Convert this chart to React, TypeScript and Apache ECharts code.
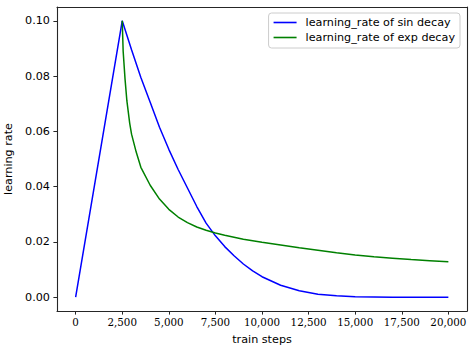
import React, { useEffect, useRef } from "react";
import * as echarts from "echarts";

const sinSteps = [0, 2500, 3000, 3500, 4000, 4500, 5000, 5500, 6000, 6500, 7000, 7500, 8000, 8500, 9000, 9500, 10000, 11000, 12000, 13000, 14000, 15000, 16000, 17000, 18000, 19000, 20000];
const sinValues = [0, 0.1, 0.0895, 0.0795, 0.0705, 0.0615, 0.0535, 0.0462, 0.0395, 0.0328, 0.0268, 0.0222, 0.0183, 0.015, 0.012, 0.0095, 0.0074, 0.0043, 0.0023, 0.0011, 0.0005, 0.0002, 0.0001, 0, 0, 0, 0];

const expSteps = [2500, 2550, 2650, 2750, 2900, 3000, 3250, 3500, 4000, 4500, 5000, 5500, 6000, 6500, 7000, 7500, 8000, 9000, 10000, 11000, 12000, 13000, 14000, 15000, 16000, 17000, 18000, 19000, 20000];
const expValues = [0.1, 0.089, 0.079, 0.071, 0.063, 0.059, 0.0525, 0.047, 0.0405, 0.0355, 0.0318, 0.029, 0.027, 0.0254, 0.0242, 0.0232, 0.0224, 0.021, 0.0199, 0.0189, 0.0179, 0.017, 0.0161, 0.0153, 0.0146, 0.0141, 0.0136, 0.0132, 0.0128];

const xTicks = [0, 2500, 5000, 7500, 10000, 12500, 15000, 17500, 20000];
const yTicks = [0, 0.02, 0.04, 0.06, 0.08, 0.1];

const seriesNames = ["learning_rate of sin decay", "learning_rate of exp decay"];

export default function App() {
  const ref = useRef<HTMLDivElement>(null);
  useEffect(() => {
    if (!ref.current) return;
    const chart = echarts.init(ref.current, null, { renderer: "svg" });
    const sans = "DejaVu Sans";
    const fs = 11.2;
    const frame = "#262626";
    const axisLine = { show: true, onZero: false, lineStyle: { color: frame, width: 1.1 } };
    const mirrorAxis = {
      axisLine: { show: true, onZero: false, lineStyle: { color: frame, width: 1.1 } },
      axisTick: { show: false },
      axisLabel: { show: false },
      splitLine: { show: false },
    };
    chart.setOption({
      animation: false,
      backgroundColor: "#fff",
      grid: {
        left: 57,
        right: 7,
        top: 7,
        bottom: 44,
        containLabel: false,
        outerBoundsMode: "none",
      },
      legend: {
        orient: "vertical",
        right: 14,
        top: 13,
        padding: [4, 5, 5, 5],
        itemGap: 4,
        itemWidth: 23,
        itemHeight: 1.6,
        icon: "rect",
        borderColor: "#cccccc",
        borderWidth: 1,
        borderRadius: 3,
        backgroundColor: "rgba(255,255,255,0.8)",
        textStyle: { fontFamily: sans, fontSize: fs, color: "#000", padding: [0, 0, 0, 4] },
        data: seriesNames,
      },
      xAxis: [
        {
          type: "value",
          position: "bottom",
          min: -1000,
          max: 21000,
          name: "train steps",
          nameLocation: "middle",
          nameGap: 23,
          nameTextStyle: { fontFamily: sans, fontSize: fs, color: "#000" },
          axisLine,
          splitLine: { show: false },
          axisTick: { show: true, inside: false, length: 3.6, customValues: xTicks, lineStyle: { color: frame, width: 1 } },
          axisLabel: {
            customValues: xTicks,
            margin: 6,
            fontFamily: "DejaVu Serif",
            fontSize: 10.3,
            color: "#000",
            formatter: (v: number) => v.toLocaleString("en-US"),
          },
        },
        { type: "value", position: "top", min: -1000, max: 21000, ...mirrorAxis },
      ],
      yAxis: [
        {
          type: "value",
          position: "left",
          min: -0.005,
          max: 0.105,
          name: "learning rate",
          nameLocation: "middle",
          nameGap: 33,
          nameTextStyle: { fontFamily: sans, fontSize: fs, color: "#000" },
          axisLine,
          splitLine: { show: false },
          axisTick: { show: true, inside: false, length: 3.6, customValues: yTicks, lineStyle: { color: frame, width: 1 } },
          axisLabel: {
            customValues: yTicks,
            margin: 7,
            fontFamily: sans,
            fontSize: fs,
            color: "#000",
            formatter: (v: number) => v.toFixed(2),
          },
        },
        { type: "value", position: "right", min: -0.005, max: 0.105, ...mirrorAxis },
      ],
      series: [
        {
          name: seriesNames[0],
          type: "line",
          data: sinSteps.map((s, i) => [s, sinValues[i]]),
          symbol: "none",
          lineStyle: { color: "#0000ff", width: 1.5 },
          itemStyle: { color: "#0000ff" },
          z: 3,
        },
        {
          name: seriesNames[1],
          type: "line",
          data: expSteps.map((s, i) => [s, expValues[i]]),
          symbol: "none",
          lineStyle: { color: "#008000", width: 1.5 },
          itemStyle: { color: "#008000" },
          z: 4,
        },
      ],
    });
    return () => chart.dispose();
  }, []);
  return (
    <div
      ref={ref}
      style={{ position: "fixed", left: 0, top: 0, width: 474, height: 355, background: "#fff" }}
    />
  );
}
